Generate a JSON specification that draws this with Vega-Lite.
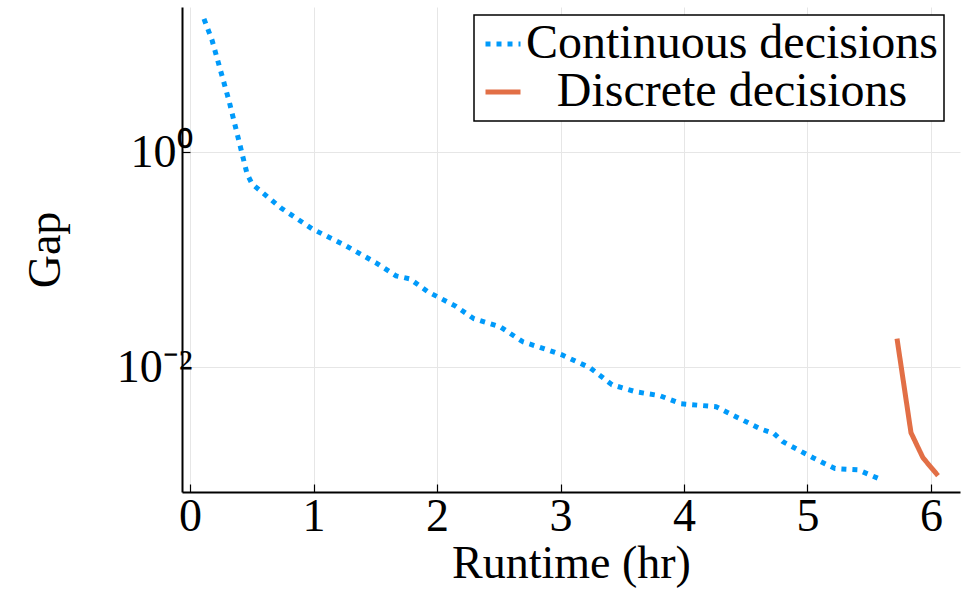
{
  "$schema": "https://vega.github.io/schema/vega-lite/v6.json",
  "width": 778,
  "height": 485,
  "autosize": {"type": "none"},
  "padding": {"left": 182, "top": 7, "right": 13, "bottom": 103},
  "background": "white",
  "config": {
    "view": {"stroke": null},
    "font": "Liberation Serif",
    "axis": {
      "domainColor": "black",
      "domainWidth": 2,
      "gridColor": "#e6e6e6",
      "gridWidth": 1,
      "tickColor": "black",
      "tickWidth": 1.2,
      "tickSize": -8,
      "labelFont": "Liberation Serif",
      "labelFontSize": 46,
      "labelColor": "black",
      "titleFont": "Liberation Serif",
      "titleFontSize": 46,
      "titleFontWeight": "normal",
      "titleColor": "black"
    },
    "legend": {
      "orient": "none",
      "legendX": 292,
      "legendY": 8,
      "strokeColor": "black",
      "strokeWidth": 1.5,
      "fillColor": "white",
      "padding": 5,
      "symbolType": "stroke",
      "symbolSize": 1225,
      "symbolStrokeWidth": 5,
      "labelFont": "Liberation Serif",
      "labelFontSize": 48,
      "labelColor": "black",
      "labelOffset": 205,
      "labelAlign": "center",
      "labelLimit": 0,
      "rowPadding": -8,
      "titlePadding": 0
    }
  },
  "data": {
    "values": [
      {"series": "Continuous decisions", "runtime": 0.113, "gap": 17.3},
      {"series": "Continuous decisions", "runtime": 0.178, "gap": 11.0},
      {"series": "Continuous decisions", "runtime": 0.316, "gap": 2.99},
      {"series": "Continuous decisions", "runtime": 0.462, "gap": 0.628},
      {"series": "Continuous decisions", "runtime": 0.502, "gap": 0.507},
      {"series": "Continuous decisions", "runtime": 0.737, "gap": 0.303},
      {"series": "Continuous decisions", "runtime": 0.988, "gap": 0.194},
      {"series": "Continuous decisions", "runtime": 1.247, "gap": 0.138},
      {"series": "Continuous decisions", "runtime": 1.506, "gap": 0.0938},
      {"series": "Continuous decisions", "runtime": 1.668, "gap": 0.071},
      {"series": "Continuous decisions", "runtime": 1.781, "gap": 0.0665},
      {"series": "Continuous decisions", "runtime": 1.927, "gap": 0.0504},
      {"series": "Continuous decisions", "runtime": 2.146, "gap": 0.0374},
      {"series": "Continuous decisions", "runtime": 2.3, "gap": 0.0283},
      {"series": "Continuous decisions", "runtime": 2.51, "gap": 0.0239},
      {"series": "Continuous decisions", "runtime": 2.696, "gap": 0.0173},
      {"series": "Continuous decisions", "runtime": 2.915, "gap": 0.0143},
      {"series": "Continuous decisions", "runtime": 3.012, "gap": 0.0131},
      {"series": "Continuous decisions", "runtime": 3.239, "gap": 0.00993},
      {"series": "Continuous decisions", "runtime": 3.417, "gap": 0.0069},
      {"series": "Continuous decisions", "runtime": 3.611, "gap": 0.00594},
      {"series": "Continuous decisions", "runtime": 3.806, "gap": 0.00546},
      {"series": "Continuous decisions", "runtime": 3.976, "gap": 0.0046},
      {"series": "Continuous decisions", "runtime": 4.259, "gap": 0.00432},
      {"series": "Continuous decisions", "runtime": 4.356, "gap": 0.0038},
      {"series": "Continuous decisions", "runtime": 4.615, "gap": 0.0027},
      {"series": "Continuous decisions", "runtime": 4.729, "gap": 0.00243},
      {"series": "Continuous decisions", "runtime": 4.802, "gap": 0.00204},
      {"series": "Continuous decisions", "runtime": 5.045, "gap": 0.00145},
      {"series": "Continuous decisions", "runtime": 5.223, "gap": 0.00115},
      {"series": "Continuous decisions", "runtime": 5.409, "gap": 0.00112},
      {"series": "Continuous decisions", "runtime": 5.579, "gap": 0.000926},
      {"series": "Discrete decisions", "runtime": 5.725, "gap": 0.0185},
      {"series": "Discrete decisions", "runtime": 5.838, "gap": 0.00248},
      {"series": "Discrete decisions", "runtime": 5.935, "gap": 0.00145},
      {"series": "Discrete decisions", "runtime": 6.057, "gap": 0.000988}
    ]
  },
  "mark": {"type": "line", "strokeWidth": 5, "strokeCap": "butt", "strokeJoin": "miter", "clip": true},
  "encoding": {
    "x": {
      "field": "runtime",
      "type": "quantitative",
      "scale": {"domain": [-0.065, 6.235], "nice": false, "zero": false},
      "axis": {"title": "Runtime (hr)", "values": [0, 1, 2, 3, 4, 5, 6], "format": "d", "labelPadding": 10, "titlePadding": 2}
    },
    "y": {
      "field": "gap",
      "type": "quantitative",
      "scale": {"type": "log", "domain": [0.000697, 22.3], "nice": false},
      "axis": {"title": "Gap", "values": [0.01, 1], "labelExpr": "datum.value >= 0.5 ? '10⁰' : '10⁻²'", "labelPadding": -2, "titlePadding": 47}
    },
    "color": {
      "field": "series",
      "type": "nominal",
      "scale": {"domain": ["Continuous decisions", "Discrete decisions"], "range": ["#009AFA", "#E26F46"]},
      "legend": {"title": null}
    },
    "strokeDash": {
      "field": "series",
      "type": "nominal",
      "scale": {"domain": ["Continuous decisions", "Discrete decisions"], "range": [[5, 6], [1, 0]]},
      "legend": {"title": null}
    }
  }
}
